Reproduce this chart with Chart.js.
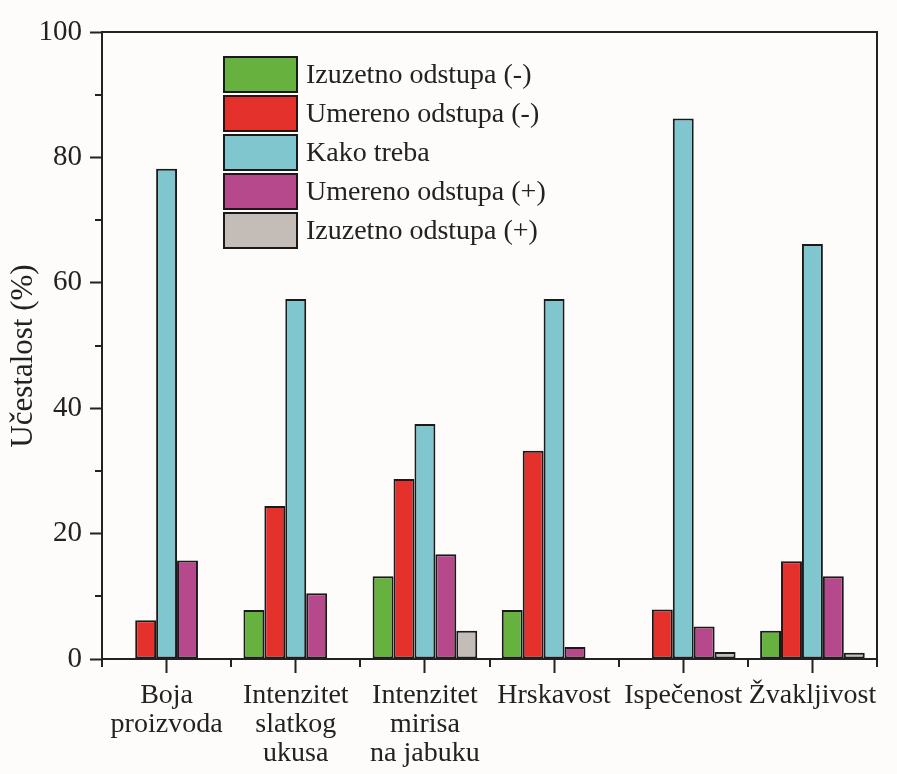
<!DOCTYPE html>
<html>
<head>
<meta charset="utf-8">
<script src="https://cdn.jsdelivr.net/npm/chart.js@4.4.1/dist/chart.umd.min.js"></script>
<style>
  html, body { margin: 0; padding: 0; background: #fdfcfb; }
  #wrap { width: 897px; height: 774px; }
</style>
</head>
<body>
<div id="wrap"><canvas id="chart" width="897" height="774"></canvas></div>
<script>
// categories and series
const categories = [
    ['Boja', 'proizvoda'],
    ['Intenzitet', 'slatkog', 'ukusa'],
    ['Intenzitet', 'mirisa', 'na jabuku'],
    'Hrskavost',
    'Ispečenost',
    'Žvakljivost'
];
const izuzetnoMinus = [0, 7.8, 13.2, 7.8, 0, 4.5];
const umerenoMinus  = [6.2, 24.4, 28.7, 33.2, 7.9, 15.6];
const kakoTreba     = [78.2, 57.4, 37.5, 57.4, 86.2, 66.2];
const umerenoPlus   = [15.7, 10.5, 16.7, 1.9, 5.2, 13.2];
const izuzetnoPlus  = [0, 0, 4.5, 0, 1.1, 1.0];
const yTicks = [0, 20, 40, 60, 80, 100];
const yTitle = 'Učestalost (%)';

const FONT = '"Liberation Serif", "Times New Roman", serif';
const INK = '#222';

function bars(label, data, color){
    return {
        label: label,
        data: data,
        backgroundColor: color,
        borderColor: '#1a1a1a',
        borderWidth: 2,
        borderSkipped: false,
        categoryPercentage: 0.81,
        barPercentage: 1.0
    };
}

// frame, minor ticks, y title and the legend in the top-left of the plot
const framePlugin = {
    id: 'frame',
    afterDraw(chart){
        const ctx = chart.ctx;
        const a = chart.chartArea;
        const y = chart.scales.y;
        ctx.save();
        ctx.strokeStyle = INK;
        ctx.lineWidth = 2;
        ctx.strokeRect(a.left, a.top, a.right - a.left, a.bottom - a.top);
        // y minor ticks
        ctx.beginPath();
        for(let v = 10; v < 100; v += 20){
            const py = Math.round(y.getPixelForValue(v));
            ctx.moveTo(a.left - 7, py);
            ctx.lineTo(a.left, py);
        }
        // x minor ticks at category borders
        const n = categories.length;
        const w = (a.right - a.left) / n;
        for(let i = 0; i <= n; i++){
            const px = Math.round(a.left + i * w);
            ctx.moveTo(px, a.bottom);
            ctx.lineTo(px, a.bottom + 8);
        }
        ctx.stroke();

        // y title
        ctx.save();
        ctx.translate(24, 356);
        ctx.rotate(-Math.PI / 2);
        ctx.font = '31px ' + FONT;
        ctx.fillStyle = INK;
        ctx.textAlign = 'center';
        ctx.textBaseline = 'middle';
        ctx.fillText(yTitle, 0, 0);
        ctx.restore();

        // legend
        let ly = 57;
        ctx.font = '28px ' + FONT;
        ctx.textBaseline = 'middle';
        chart.data.datasets.forEach(ds => {
            ctx.fillStyle = ds.backgroundColor;
            ctx.fillRect(224, ly, 73, 35);
            ctx.strokeStyle = '#1a1a1a';
            ctx.lineWidth = 2;
            ctx.strokeRect(224, ly, 73, 35);
            ctx.fillStyle = INK;
            ctx.fillText(ds.label, 306, ly + 19);
            ly += 39;
        });
        ctx.restore();
    }
};

const ctx = document.getElementById('chart').getContext('2d');
const myChart = new Chart(ctx, {
    type: 'bar',
    data: {
        labels: categories,
        datasets: [
            bars('Izuzetno odstupa (-)', izuzetnoMinus, '#67b23f'),
            bars('Umereno odstupa (-)', umerenoMinus, '#e4312b'),
            bars('Kako treba', kakoTreba, '#7fc6ce'),
            bars('Umereno odstupa (+)', umerenoPlus, '#b5498c'),
            bars('Izuzetno odstupa (+)', izuzetnoPlus, '#c3bcb7')
        ]
    },
    options: {
        responsive: false,
        animation: false,
        layout: { padding: { left: 0, right: 20, top: 32, bottom: 0 } },
        plugins: {
            legend: { display: false },
            tooltip: { enabled: false }
        },
        scales: {
            x: {
                offset: true,
                grid: {
                    offset: false,
                    drawOnChartArea: false,
                    color: INK,
                    tickLength: 14,
                    tickWidth: 2
                },
                border: { display: false },
                ticks: {
                    color: INK,
                    padding: 8,
                    maxRotation: 0,
                    autoSkip: false,
                    font: { family: FONT, size: 28, lineHeight: 1.04 }
                },
                afterFit(scale){ scale.height = 115; }
            },
            y: {
                min: 0,
                max: 100,
                afterBuildTicks(scale){ scale.ticks = yTicks.map(v => ({ value: v })); },
                grid: {
                    drawOnChartArea: false,
                    color: INK,
                    tickLength: 12,
                    tickWidth: 2
                },
                border: { display: false },
                ticks: {
                    color: INK,
                    padding: 8,
                    font: { family: FONT, size: 29 }
                },
                afterFit(scale){ scale.width = 102; }
            }
        }
    },
    plugins: [framePlugin]
});
</script>
</body>
</html>
